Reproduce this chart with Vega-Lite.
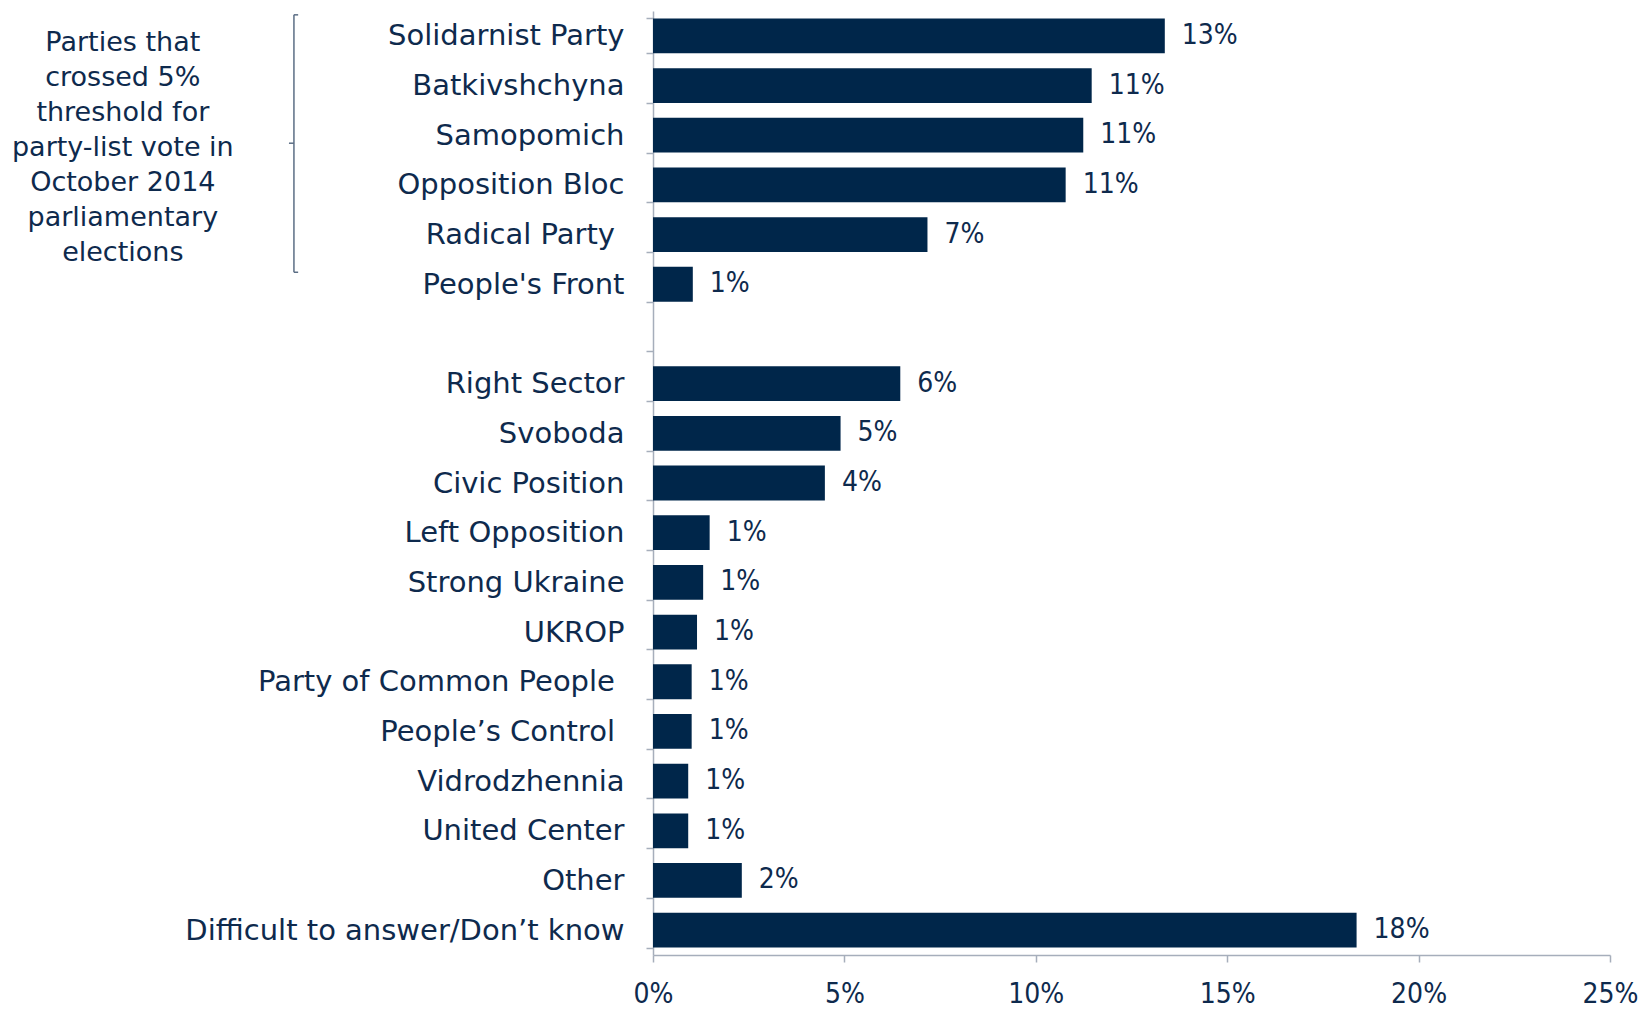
{
  "$schema": "https://vega.github.io/schema/vega-lite/v6.json",
  "width": 957,
  "height": 944,
  "autosize": {"type": "none"},
  "padding": {"left": 653, "top": 11, "right": 31, "bottom": 54},
  "background": "white",
  "config": {"view": {"stroke": null}, "font": "DejaVu Sans"},
  "datasets": {
    "main": [
      {"party": "Solidarnist Party", "value": 13.37, "label": "13%"},
      {"party": "Batkivshchyna", "value": 11.46, "label": "11%"},
      {"party": "Samopomich", "value": 11.24, "label": "11%"},
      {"party": "Opposition Bloc", "value": 10.78, "label": "11%"},
      {"party": "Radical Party\u2004\u200b", "value": 7.17, "label": "7%"},
      {"party": "People's Front", "value": 1.04, "label": "1%"},
      {"party": "Right Sector", "value": 6.46, "label": "6%"},
      {"party": "Svoboda", "value": 4.9, "label": "5%"},
      {"party": "Civic Position", "value": 4.49, "label": "4%"},
      {"party": "Left Opposition", "value": 1.48, "label": "1%"},
      {"party": "Strong Ukraine", "value": 1.31, "label": "1%"},
      {"party": "UKROP", "value": 1.15, "label": "1%"},
      {"party": "Party of Common People\u2004\u200b", "value": 1.01, "label": "1%"},
      {"party": "People\u2019s Control\u2004\u200b", "value": 1.01, "label": "1%"},
      {"party": "Vidrodzhennia", "value": 0.92, "label": "1%"},
      {"party": "United Center", "value": 0.92, "label": "1%"},
      {"party": "Other", "value": 2.32, "label": "2%"},
      {"party": "Difficult to answer/Don\u2019t know", "value": 18.38, "label": "18%"}
    ],
    "note": [
      {"party": "Solidarnist Party", "x": -13.85, "lines": ["Parties that", "crossed 5%", "threshold for", "party-list vote in", "October 2014", "parliamentary", "elections"]}
    ],
    "bracket": [
      {"bx": -9.38, "tx": -9.27, "mx": -9.51, "top": "Solidarnist Party", "bottom": "People's Front", "mid": "Samopomich"}
    ]
  },
  "layer": [
    {
      "data": {"name": "main"},
      "mark": {"type": "bar", "color": "#00264a"},
      "encoding": {
        "y": {
          "field": "party", "type": "nominal", "title": null,
          "scale": {
            "type": "band",
            "domain": ["Solidarnist Party", "Batkivshchyna", "Samopomich", "Opposition Bloc", "Radical Party\u2004\u200b", "People's Front", " ", "Right Sector", "Svoboda", "Civic Position", "Left Opposition", "Strong Ukraine", "UKROP", "Party of Common People\u2004\u200b", "People\u2019s Control\u2004\u200b", "Vidrodzhennia", "United Center", "Other", "Difficult to answer/Don\u2019t know"],
            "paddingInner": 0.3, "paddingOuter": 0.15
          },
          "axis": {
            "title": null, "domainColor": "#a6aebb", "domainWidth": 1.5,
            "tickColor": "#a6aebb", "tickWidth": 1.5, "tickSize": 7, "tickBand": "extent",
            "labelFontSize": 29, "labelColor": "#0e2a4d", "labelPadding": 22,
            "labelLimit": 600, "labelFont": "DejaVu Sans"
          }
        },
        "x": {
          "field": "value", "type": "quantitative", "title": null,
          "scale": {"domain": [0, 25], "nice": false, "zero": true},
          "axis": {
            "title": null, "values": [0, 5, 10, 15, 20, 25],
            "labelExpr": "datum.value + '%'", "grid": false,
            "domainColor": "#a6aebb", "domainWidth": 1.5,
            "tickColor": "#a6aebb", "tickWidth": 1.5, "tickSize": 7,
            "labelFontSize": 28, "labelColor": "#0e2a4d", "labelPadding": 18,
            "labelFlush": false, "labelFont": "DejaVu Sans Condensed, DejaVu Sans"
          }
        }
      }
    },
    {
      "data": {"name": "main"},
      "mark": {"type": "text", "align": "left", "baseline": "middle", "dx": 17, "fontSize": 28, "font": "DejaVu Sans Condensed, DejaVu Sans", "color": "#0e2a4d"},
      "encoding": {
        "y": {"field": "party", "type": "nominal", "title": null},
        "x": {"field": "value", "type": "quantitative", "title": null},
        "text": {"field": "label"}
      }
    },
    {
      "data": {"name": "note"},
      "mark": {"type": "text", "align": "center", "baseline": "middle", "fontSize": 27, "lineHeight": 35, "color": "#0e2a4d"},
      "encoding": {
        "y": {"field": "party", "type": "nominal", "title": null, "bandPosition": 0.7},
        "x": {"field": "x", "type": "quantitative", "title": null},
        "text": {"field": "lines"}
      }
    },
    {
      "data": {"name": "bracket"},
      "mark": {"type": "rule", "color": "#5b6e85", "strokeWidth": 1.5, "yOffset": -21, "y2Offset": -12},
      "encoding": {
        "x": {"field": "bx", "type": "quantitative", "title": null},
        "y": {"field": "top", "type": "nominal", "title": null},
        "y2": {"field": "bottom"}
      }
    },
    {
      "data": {"name": "bracket"},
      "mark": {"type": "rule", "color": "#5b6e85", "strokeWidth": 1.5, "yOffset": -21},
      "encoding": {
        "x": {"field": "bx", "type": "quantitative", "title": null},
        "x2": {"field": "tx"},
        "y": {"field": "top", "type": "nominal", "title": null}
      }
    },
    {
      "data": {"name": "bracket"},
      "mark": {"type": "rule", "color": "#5b6e85", "strokeWidth": 1.5, "yOffset": -12},
      "encoding": {
        "x": {"field": "bx", "type": "quantitative", "title": null},
        "x2": {"field": "tx"},
        "y": {"field": "bottom", "type": "nominal", "title": null}
      }
    },
    {
      "data": {"name": "bracket"},
      "mark": {"type": "rule", "color": "#5b6e85", "strokeWidth": 1.5, "yOffset": 8},
      "encoding": {
        "x": {"field": "mx", "type": "quantitative", "title": null},
        "x2": {"field": "bx"},
        "y": {"field": "mid", "type": "nominal", "title": null}
      }
    }
  ]
}
